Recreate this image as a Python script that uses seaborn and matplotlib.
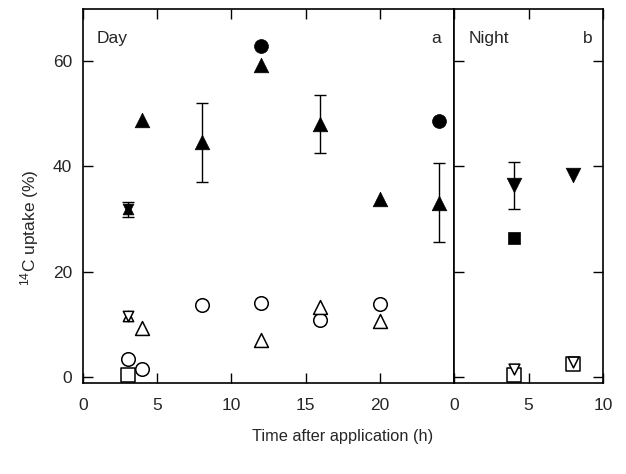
import matplotlib
matplotlib.use("Agg")
import matplotlib.pyplot as plt
import pandas as pd
import seaborn as sns

# ---- Day (panel a): time after application (h) and 14C uptake (%) ----
day_fill_up_t = [3, 4, 8, 12, 16, 20, 24]
day_fill_up_y = [31.8, 48.8, 44.5, 59.2, 48.0, 33.7, 33.1]
day_fill_down_t = [3]
day_fill_down_y = [31.8]
day_fill_circ_t = [12, 24]
day_fill_circ_y = [62.7, 48.6]
day_open_circ_t = [3, 4, 8, 12, 16, 20]
day_open_circ_y = [3.4, 1.5, 13.7, 14.1, 10.8, 13.9]
day_open_up_t = [3, 4, 12, 16, 20]
day_open_up_y = [11.6, 9.3, 7.0, 13.3, 10.7]
day_open_down_t = [3]
day_open_down_y = [11.6]
day_open_sq_t = [3]
day_open_sq_y = [0.4]
day_err_t = [3, 8, 16, 24]
day_err_y = [31.8, 44.5, 48.0, 33.1]
day_err_sd = [1.5, 7.5, 5.5, 7.5]

# ---- Night (panel b) ----
night_fill_down_t = [4, 8]
night_fill_down_y = [36.4, 38.3]
night_fill_sq_t = [4]
night_fill_sq_y = [26.3]
night_open_sq_t = [4, 8]
night_open_sq_y = [0.4, 2.5]
night_open_down_t = [4, 8]
night_open_down_y = [1.5, 2.9]
night_err_t = [4]
night_err_y = [36.3]
night_err_sd = [4.5]

x_ticks_day = [0, 5, 10, 15, 20, 25]
x_labels_day = ["0", "5", "10", "15", "20", ""]
x_ticks_night = [0, 5, 10]
x_labels_night = ["0", "5", "10"]
y_ticks = [0, 20, 40, 60]
y_labels = ["0", "20", "40", "60"]

sns.set_style("white")
plt.rcParams["font.family"] = ["Liberation Sans", "DejaVu Sans"]
plt.rcParams["mathtext.fontset"] = "custom"
plt.rcParams["mathtext.rm"] = "Liberation Sans"
plt.rcParams["mathtext.it"] = "Liberation Sans:italic"

W, H = 626, 474
fig = plt.figure(figsize=(W / 100, H / 100), dpi=100)
ax_day = fig.add_axes([83 / W, 1 - 383 / H, (454 - 83) / W, (383 - 9) / H])
ax_night = fig.add_axes([454 / W, 1 - 383 / H, (603 - 454) / W, (383 - 9) / H])


def draw(ax, t, y, marker, filled, size=100):
    df = pd.DataFrame({"t": t, "y": y})
    sns.scatterplot(data=df, x="t", y="y", ax=ax, marker=marker, s=size,
                    color="black" if filled else "white",
                    edgecolor="black", linewidth=1.1 if not filled else 0.5,
                    zorder=3, legend=False)


def errbars(ax, t, y, sd):
    ax.errorbar(t, y, yerr=sd, fmt="none", ecolor="black", elinewidth=1.0,
                capsize=4.5, capthick=1.0, zorder=2)


errbars(ax_day, day_err_t, day_err_y, day_err_sd)
draw(ax_day, day_fill_up_t[1:], day_fill_up_y[1:], "^", True, 110)
draw(ax_day, day_fill_up_t[:1], day_fill_up_y[:1], "^", True, 60)
draw(ax_day, day_fill_down_t, day_fill_down_y, "v", True, 60)
draw(ax_day, day_fill_circ_t, day_fill_circ_y, "o", True, 100)
draw(ax_day, day_open_circ_t, day_open_circ_y, "o", False, 95)
draw(ax_day, day_open_up_t[1:], day_open_up_y[1:], "^", False, 100)
draw(ax_day, day_open_up_t[:1], day_open_up_y[:1], "^", False, 55)
draw(ax_day, day_open_down_t, day_open_down_y, "v", False, 55)
draw(ax_day, day_open_sq_t, day_open_sq_y, "s", False, 90)

errbars(ax_night, night_err_t, night_err_y, night_err_sd)
draw(ax_night, night_fill_down_t, night_fill_down_y, "v", True, 110)
draw(ax_night, night_fill_sq_t, night_fill_sq_y, "s", True, 80)
draw(ax_night, night_open_sq_t, night_open_sq_y, "s", False, 90)
draw(ax_night, night_open_down_t, night_open_down_y, "v", False, 60)

for ax in (ax_day, ax_night):
    ax.set_ylim(-1.1, 69.8)
    ax.set_xlabel("")
    ax.set_ylabel("")
    for sp in ax.spines.values():
        sp.set_visible(True)
        sp.set_linewidth(1.2)
        sp.set_color("black")
    ax.tick_params(direction="in", length=7, width=1.0, color="black",
                   labelsize=12.5, pad=11)

ax_day.set_xlim(0, 25)
ax_day.set_xticks(x_ticks_day, x_labels_day)
ax_day.set_yticks(y_ticks, y_labels)
ax_day.tick_params(axis="x", top=True, bottom=True)
ax_day.tick_params(axis="y", left=True, right=False, pad=8)

ax_night.set_xlim(0, 10)
ax_night.set_xticks(x_ticks_night, x_labels_night)
ax_night.set_yticks(y_ticks, [])
ax_night.tick_params(axis="x", top=True, bottom=True)
ax_night.tick_params(axis="y", left=True, right=True)

ax_day.text(0.038, 0.92, "Day", transform=ax_day.transAxes, fontsize=12.5,
            ha="left", va="center")
ax_day.text(0.965, 0.92, "a", transform=ax_day.transAxes, fontsize=12.5,
            ha="right", va="center")
ax_night.text(0.1, 0.92, "Night", transform=ax_night.transAxes, fontsize=12.5,
              ha="left", va="center")
ax_night.text(0.93, 0.92, "b", transform=ax_night.transAxes, fontsize=12.5,
              ha="right", va="center")

fig.text(343 / W, 1 - 437 / H, "Time after application (h)", fontsize=11.8,
         ha="center", va="center")
fig.text(30 / W, 1 - 228 / H, r"$^{14}$C uptake (%)", fontsize=12.5,
         ha="center", va="center", rotation=90)

fig.savefig("out.png", dpi=100, facecolor="white")
